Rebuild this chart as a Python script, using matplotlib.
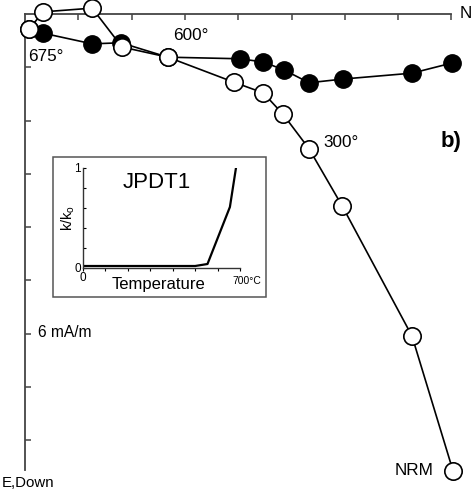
import matplotlib
matplotlib.use("Agg")
import matplotlib.pyplot as plt
from matplotlib.patches import Rectangle

plt.rcParams['font.family'] = ['Liberation Sans', 'DejaVu Sans']

# Zijderveld data (mA/m); vertical projection (open) and horizontal projection (filled)
open_north = [8.03, 7.26, 5.95, 5.33, 4.84, 4.47, 3.92, 2.68, 1.82, 1.26, 0.34, 0.08]
open_down = [8.57, 6.04, 3.60, 2.53, 1.88, 1.48, 1.28, 0.81, 0.62, -0.11, -0.04, 0.28]
filled_north = [8.01, 7.26, 5.97, 5.33, 4.86, 4.47, 4.03, 2.68, 1.80, 1.26, 0.34, 0.08]
filled_east = [0.92, 1.11, 1.22, 1.29, 1.05, 0.90, 0.84, 0.81, 0.54, 0.56, 0.36, 0.28]
axis_ticks = [1, 2, 3, 4, 5, 6, 7, 8]

# Inset susceptibility curve
temp = [0, 500, 555, 655, 682]
k_ratio = [0.02, 0.02, 0.04, 0.61, 1.0]

W, H = 472, 494
fig = plt.figure(figsize=(W / 100, H / 100), dpi=100)
ax = fig.add_axes([0, 0, 1, 1])
s = 53.3
ax.set_xlim(-25 / s, (W - 25) / s)
ax.set_ylim((H - 14) / s, -14 / s)
ax.patch.set_alpha(0)

axcol = '#444444'
for sp in ['bottom', 'right']:
    ax.spines[sp].set_visible(False)
ax.spines['left'].set_position(('data', 0))
ax.spines['left'].set_bounds(0, 8.55)
ax.spines['top'].set_position(('data', 0))
ax.spines['top'].set_bounds(0, 8.0)
for sp in ['left', 'top']:
    ax.spines[sp].set_color(axcol)
    ax.spines[sp].set_linewidth(1.3)
ax.xaxis.tick_top()
ax.set_xticks(axis_ticks)
ax.set_yticks(axis_ticks)
ax.tick_params(axis='both', direction='in', length=4, width=1.1, color=axcol,
               labeltop=False, labelleft=False, labelbottom=False)

ax.plot(filled_north, filled_east, '-', color='black', lw=1.2, marker='o',
        ms=12.5, mfc='black', mec='black', mew=1.0, zorder=3, clip_on=False)
ax.plot(open_north, open_down, '-', color='black', lw=1.2, marker='o',
        ms=12.5, mfc='white', mec='black', mew=1.2, zorder=4, clip_on=False)

fs = 12.3
ax.text(0.06, 0.79, '675°', fontsize=fs, va='center', ha='left')
ax.text(2.78, 0.41, '600°', fontsize=fs, va='center', ha='left')
ax.text(5.59, 2.42, '300°', fontsize=fs, va='center', ha='left')
ax.text(7.67, 8.57, 'NRM', fontsize=fs, va='center', ha='right')
ax.text(7.79, 2.40, 'b)', fontsize=16, fontweight='bold', va='center', ha='left')
ax.text(8.16, 0.0, 'N', fontsize=fs, va='center', ha='left')
ax.text(-0.43, 8.8, 'E,Down', fontsize=10.8, va='center', ha='left')
ax.text(0.24, 5.98, '6 mA/m', fontsize=11.2, va='center', ha='left')

# Inset frame
fig.add_artist(Rectangle((53 / W, 1 - 297 / H), (266 - 53) / W, (297 - 157) / H,
                         transform=fig.transFigure, fill=False, edgecolor='#555555',
                         lw=1.1, zorder=5))
ins = fig.add_axes([83 / W, 1 - 268 / H, (240 - 83) / W, (268 - 168) / H])
ins.patch.set_alpha(0)
ins.set_xlim(0, 700)
ins.set_ylim(0, 1)
ins.spines['top'].set_visible(False)
ins.spines['right'].set_visible(False)
for sp in ['left', 'bottom']:
    ins.spines[sp].set_linewidth(1.0)
    ins.spines[sp].set_color('#333333')
ins.set_xticks([0, 100, 200, 300, 400, 500, 600, 700])
ins.set_xticklabels(['0', '', '', '', '', '', '', ''])
ins.set_yticks([0, 0.2, 0.4, 0.6, 0.8, 1.0])
ins.set_yticklabels(['0', '', '', '', '', '1'])
ins.tick_params(axis='x', direction='out', length=2.5, width=0.8, labelsize=8.5, pad=0.5)
ins.tick_params(axis='y', direction='in', length=2.5, width=0.8, labelsize=8.5, pad=1.5)
ins.plot(temp, k_ratio, color='black', lw=1.6)
ins.text(730, -0.13, '700°C', fontsize=7.5, ha='center', va='center', clip_on=False)
ins.text(0.47, 0.85, 'JPDT1', transform=ins.transAxes, fontsize=16, ha='center', va='center')
ins.set_xlabel('Temperature', fontsize=12)
ins.xaxis.set_label_coords(0.48, -0.085)
ins.set_ylabel('k/k$_\\mathregular{o}$', fontsize=10.5, labelpad=-2)

fig.savefig('out.png', dpi=100)
